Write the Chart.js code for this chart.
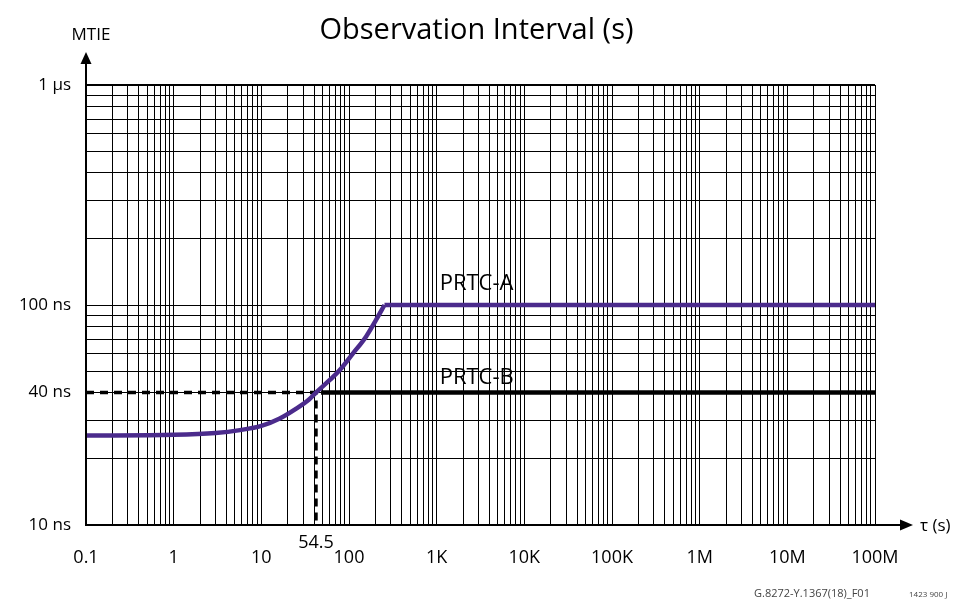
<!DOCTYPE html>
<html>
<head>
<meta charset="utf-8">
<script src="https://cdn.jsdelivr.net/npm/chart.js@4.4.0/dist/chart.umd.min.js"></script>
<style>
  body { margin: 0; background: #fff; }
  canvas { display: block; }
</style>
</head>
<body>
<canvas id="mtie-chart" width="965" height="600"></canvas>
<script>
// observation interval tau (s) and MTIE (ns)
// PRTC-A rising part, then the flat 100 ns part
const tauA  = [0.1, 1, 3, 5.7, 10, 16, 25, 35, 42, 60, 78, 110, 157, 205, 254];
const mtieA = [25.5, 25.7, 26.2, 27, 28.2, 30.4, 33.8, 37.2, 40, 45.5, 50.5, 60, 72, 86, 100];
const tauAFlat  = [254, 1e8];
const mtieAFlat = [100, 100];

const tauB  = [48, 1e8];
const mtieB = [40, 40];

// dashed guide to the 40 ns / 54.5 s crossing
const tauGuide  = [0.1, 42, 42];
const mtieGuide = [40, 40, 10];

// axis ticks
const xMajor = [0.1, 1, 10, 100, 1e3, 1e4, 1e5, 1e6, 1e7, 1e8];
const xLabels = ['0.1', '1', '10', '100', '1K', '10K', '100K', '1M', '10M', '100M'];
const yLabelValues = [10, 40, 100, 1000];
const yLabels = ['10 ns', '40 ns', '100 ns', '1 µs'];

const FONT = '"Open Sans", "Noto Sans", sans-serif';
const PURPLE = '#4b2b8c';

function toPoints(xs, ys) {
  return xs.map((x, i) => ({x: x, y: ys[i]}));
}

// every 1..9 multiple inside the decades (grid lines)
function logGrid(min, max) {
  const out = [];
  for (let d = min; d < max * 0.999; d *= 10) {
    for (let m = 1; m < 10; m++) out.push(Math.round(d * m * 1e6) / 1e6);
  }
  out.push(max);
  return out;
}

const annotations = {
  id: 'annotations',
  afterDraw(chart) {
    const { ctx, chartArea: {left, right, top, bottom}, scales: {x, y} } = chart;
    ctx.save();
    ctx.fillStyle = '#000';
    ctx.strokeStyle = '#000';

    // title
    ctx.font = '29px ' + FONT;
    ctx.textAlign = 'center';
    ctx.textBaseline = 'middle';
    ctx.fillText('Observation Interval (s)', (left + right) / 2 - 4, 31);

    // y axis arrow
    ctx.lineWidth = 2;
    ctx.beginPath();
    ctx.moveTo(left, bottom);
    ctx.lineTo(left, top - 24);
    ctx.stroke();
    ctx.beginPath();
    ctx.moveTo(left, top - 33);
    ctx.lineTo(left - 5.5, top - 21);
    ctx.lineTo(left + 5.5, top - 21);
    ctx.closePath();
    ctx.fill();
    ctx.font = '17px ' + FONT;
    ctx.fillText('MTIE', left + 5, 35);

    // x axis arrow
    ctx.beginPath();
    ctx.moveTo(right, bottom);
    ctx.lineTo(right + 27, bottom);
    ctx.stroke();
    ctx.beginPath();
    ctx.moveTo(right + 38, bottom);
    ctx.lineTo(right + 25, bottom - 5.5);
    ctx.lineTo(right + 25, bottom + 5.5);
    ctx.closePath();
    ctx.fill();
    ctx.textAlign = 'left';
    ctx.fillText('τ (s)', right + 45, bottom + 1);

    // 54.5 marker label
    ctx.textAlign = 'center';
    ctx.font = '18px ' + FONT;
    ctx.fillText('54.5', x.getPixelForValue(tauGuide[1]), bottom + 18);

    // curve names
    ctx.font = '22px ' + FONT;
    ctx.textAlign = 'left';
    ctx.fillText('PRTC-A', x.getPixelForValue(1000) + 3, y.getPixelForValue(100) - 21);
    ctx.fillText('PRTC-B', x.getPixelForValue(1000) + 3, y.getPixelForValue(40) - 15);

    // figure reference
    ctx.fillStyle = '#444';
    ctx.font = '11px ' + FONT;
    ctx.fillText('G.8272-Y.1367(18)_F01', 754, 594);
    ctx.font = '8px ' + FONT;
    ctx.fillText('1423 900 J', 909, 595);
    ctx.restore();
  }
};

const data = {
  datasets: [
    {
      label: 'PRTC-A',
      data: toPoints(tauA, mtieA),
      borderColor: PURPLE,
      borderWidth: 4.5,
      pointRadius: 0,
      cubicInterpolationMode: 'monotone'
    },
    {
      label: 'PRTC-A flat',
      data: toPoints(tauAFlat, mtieAFlat),
      borderColor: PURPLE,
      borderWidth: 4.5,
      pointRadius: 0
    },
    {
      label: 'PRTC-B',
      data: toPoints(tauB, mtieB),
      borderColor: '#000',
      borderWidth: 4.5,
      pointRadius: 0
    },
    {
      label: 'guide',
      data: toPoints(tauGuide, mtieGuide),
      borderColor: '#000',
      borderWidth: 3.5,
      borderDash: [8, 6],
      pointRadius: 0
    }
  ]
};

const config = {
  type: 'line',
  data,
  options: {
    responsive: false,
    animation: false,
    devicePixelRatio: 1,
    layout: { padding: { left: 0, right: 90, top: 85, bottom: 0 } },
    plugins: {
      legend: { display: false },
      tooltip: { enabled: false }
    },
    scales: {
      x: {
        type: 'logarithmic',
        min: 0.1,
        max: 1e8,
        afterBuildTicks(axis) {
          axis.ticks = logGrid(0.1, 1e8).map(v => ({value: v}));
        },
        afterFit(axis) { axis.height = 75; },
        ticks: {
          autoSkip: false,
          maxRotation: 0,
          padding: 22,
          color: '#000',
          font: { family: FONT, size: 18 },
          callback(value) {
            const i = xMajor.findIndex(m => Math.abs(m - value) < m * 1e-6);
            return i >= 0 ? xLabels[i] : '';
          }
        },
        grid: { color: '#000', lineWidth: 1, drawTicks: false },
        border: { color: '#000', width: 2 }
      },
      y: {
        type: 'logarithmic',
        min: 10,
        max: 1000,
        afterBuildTicks(axis) {
          axis.ticks = logGrid(10, 1000).map(v => ({value: v}));
        },
        afterFit(axis) { axis.width = 86; },
        ticks: {
          autoSkip: false,
          padding: 15,
          color: '#000',
          font: { family: FONT, size: 17 },
          callback(value) {
            const i = yLabelValues.indexOf(value);
            return i >= 0 ? yLabels[i] : '';
          }
        },
        grid: {
          color: '#000',
          lineWidth: c => (c.tick && c.tick.value === 1000 ? 2 : 1),
          drawTicks: false
        },
        border: { color: '#000', width: 2 }
      }
    }
  },
  plugins: [annotations]
};

const myChart = new Chart(document.getElementById('mtie-chart'), config);
</script>
</body>
</html>
